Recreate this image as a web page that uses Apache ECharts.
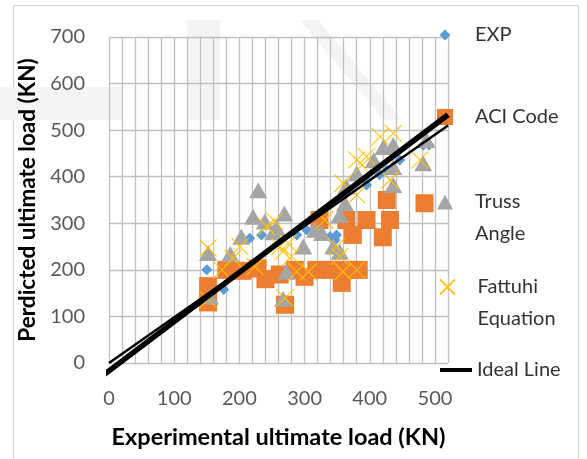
<!DOCTYPE html>
<html>
<head>
<meta charset="utf-8">
<script src="https://cdn.jsdelivr.net/npm/echarts@6/dist/echarts.min.js"></script>
<style>html,body{margin:0;padding:0;background:#fff}#c{width:587px;height:459px}</style>
</head>
<body>
<div id="c"></div>
<script>
// ---- data (experimental load, predicted load) in kN ----
const expData = [[150,200],[176,158],[216,268],[234,275],[288,275],[303,286],[339,271],[349,275],[347,264],[364,364],[395,382],[394,393],[415,404],[426,414],[446,436],[482,468],[491,468]];
const aciData = [[152,165],[152,130],[180,200],[205,198],[228,203],[240,180],[262,190],[270,125],[285,200],[300,185],[318,200],[340,200],[357,172],[365,200],[383,200],[323,307],[364,307],[374,275],[395,307],[420,270],[431,307],[426,350],[484,343]];
const trussData = [[152,236],[155,143],[186,234],[203,271],[221,314],[229,371],[239,304],[252,281],[257,290],[269,321],[272,196],[267,138],[298,250],[316,286],[327,279],[344,250],[354,239],[354,318],[362,343],[364,379],[380,407],[406,436],[421,464],[436,468],[436,421],[436,382],[482,429],[487,479]];
const fattuhiData = [[152,247],[152,136],[173,200],[190,225],[201,250],[224,207],[242,293],[254,304],[262,250],[267,239],[275,257],[280,229],[288,196],[306,196],[270,140],[331,307],[349,250],[354,229],[359,196],[380,200],[359,386],[380,361],[388,425],[380,436],[395,443],[416,486],[436,493],[431,393],[477,436]];
const trendLine = [[0,0],[520,510]];
const idealLine = [[-20,-38],[520,533]];
const xMin = 0, xMax = 520, xStep = 20, xLabelStep = 100;
const yMin = 0, yMax = 700, yStep = 100;

const FONT = 'Lato';
const tickColor = '#595959';
const legendColor = '#333333';
const gridColor = '#c0c0c0';
const chart = echarts.init(document.getElementById('c'), null, {renderer:'canvas'});
const xPath = 'path://M0,0L10,10M10,0L0,10';

// legend item: icon centred at (445, cy); text starting at x = 475
function lg(name, cy, w, h, lines, extra) {
  const boxH = lines === 1 ? 32 : 96;
  return Object.assign({
    data:[name], left: 445 - w/2 - 5, top: cy - boxH/2 - 5, orient:'vertical',
    itemWidth: w, itemHeight: h, itemGap: 0, selectedMode:false,
    textStyle:{fontFamily:FONT, fontSize:20, color:legendColor, lineHeight:32,
      padding:[0,0,0,Math.max(0, 25 - w/2)]}
  }, extra||{});
}

chart.setOption({
  animation:false,
  backgroundColor:'#ffffff',
  graphic:[
    {type:'rect', z:-5, shape:{x:13.5,y:5.5,width:565,height:460}, style:{fill:'none', stroke:'#cfcfcf', lineWidth:1}},
    {type:'rect', z:-5, shape:{x:0,y:87,width:122,height:33}, style:{fill:'#f4f4f4'}},
    {type:'rect', z:-5, shape:{x:187,y:20,width:33,height:100}, style:{fill:'#f4f4f4'}},
    {type:'polygon', z:-5, shape:{points:[[300,20],[318,20],[402,120],[384,120]]}, style:{fill:'#f4f4f4'}}
  ],
  grid:{left:109, top:37, right:139, bottom:96, containLabel:false},
  legend:[
    lg('EXP', 35, 11, 11, 1),
    lg('ACI Code', 117, 16, 16, 1),
    lg('Truss Angle', 202, 16, 15, 3, {formatter:()=> ' \nTruss\nAngle'}),
    lg('Fattuhi Equation', 287, 15, 15, 3, {formatter:()=> ' \nFattuhi\nEquation'}),
    {data:['Ideal Line'], left:435, top:370-16-5, itemWidth:32, itemHeight:4, icon:'rect', selectedMode:false,
      textStyle:{fontFamily:FONT, fontSize:20, color:legendColor, lineHeight:32}}
  ],
  xAxis:{
    type:'value', min:xMin, max:xMax, interval:xStep,
    name:'Experimental ultimate load (KN)', nameLocation:'middle', nameGap:62,
    nameTextStyle:{fontFamily:FONT, fontSize:23.5, fontWeight:'bold', color:'#000'},
    axisLine:{show:false}, axisTick:{show:false},
    axisLabel:{fontFamily:FONT, fontSize:20, color:tickColor, margin:26,
      formatter:v => (v % xLabelStep === 0 ? String(v) : '')},
    splitLine:{show:true, lineStyle:{color:gridColor, width:1.3}}
  },
  yAxis:{
    type:'value', min:yMin, max:yMax, interval:yStep,
    name:'Perdicted ultimate load (KN)', nameLocation:'middle', nameGap:66,
    nameTextStyle:{fontFamily:FONT, fontSize:22.5, fontWeight:'bold', color:'#000'},
    axisLine:{show:false}, axisTick:{show:false},
    axisLabel:{fontFamily:FONT, fontSize:20, color:tickColor, margin:24},
    splitLine:{show:true, lineStyle:{color:gridColor, width:1.3}}
  },
  series:[
    {name:'EXP', type:'scatter', data:expData, symbol:'diamond', symbolSize:11, itemStyle:{color:'#5B9BD5', opacity:1}},
    {name:'ACI Code', type:'scatter', data:aciData, symbol:'rect', symbolSize:18, itemStyle:{color:'#ED7D31', opacity:1}},
    {name:'Truss Angle', type:'scatter', data:trussData, symbol:'triangle', symbolSize:[18,16], itemStyle:{color:'#A5A5A5', opacity:1}},
    {name:'Fattuhi Equation', type:'scatter', data:fattuhiData, symbol:xPath, symbolSize:17,
      itemStyle:{color:'none', borderColor:'#FFC000', borderWidth:1.2, opacity:0.9}},
    {name:'trend', type:'line', data:trendLine, symbol:'none', itemStyle:{color:'#000'}, lineStyle:{color:'#000', width:2.5}, z:5},
    {name:'Ideal Line', type:'line', data:idealLine, symbol:'none', clip:false, itemStyle:{color:'#000'}, lineStyle:{color:'#000', width:5.5}, z:6}
  ]
});
</script>
</body>
</html>
